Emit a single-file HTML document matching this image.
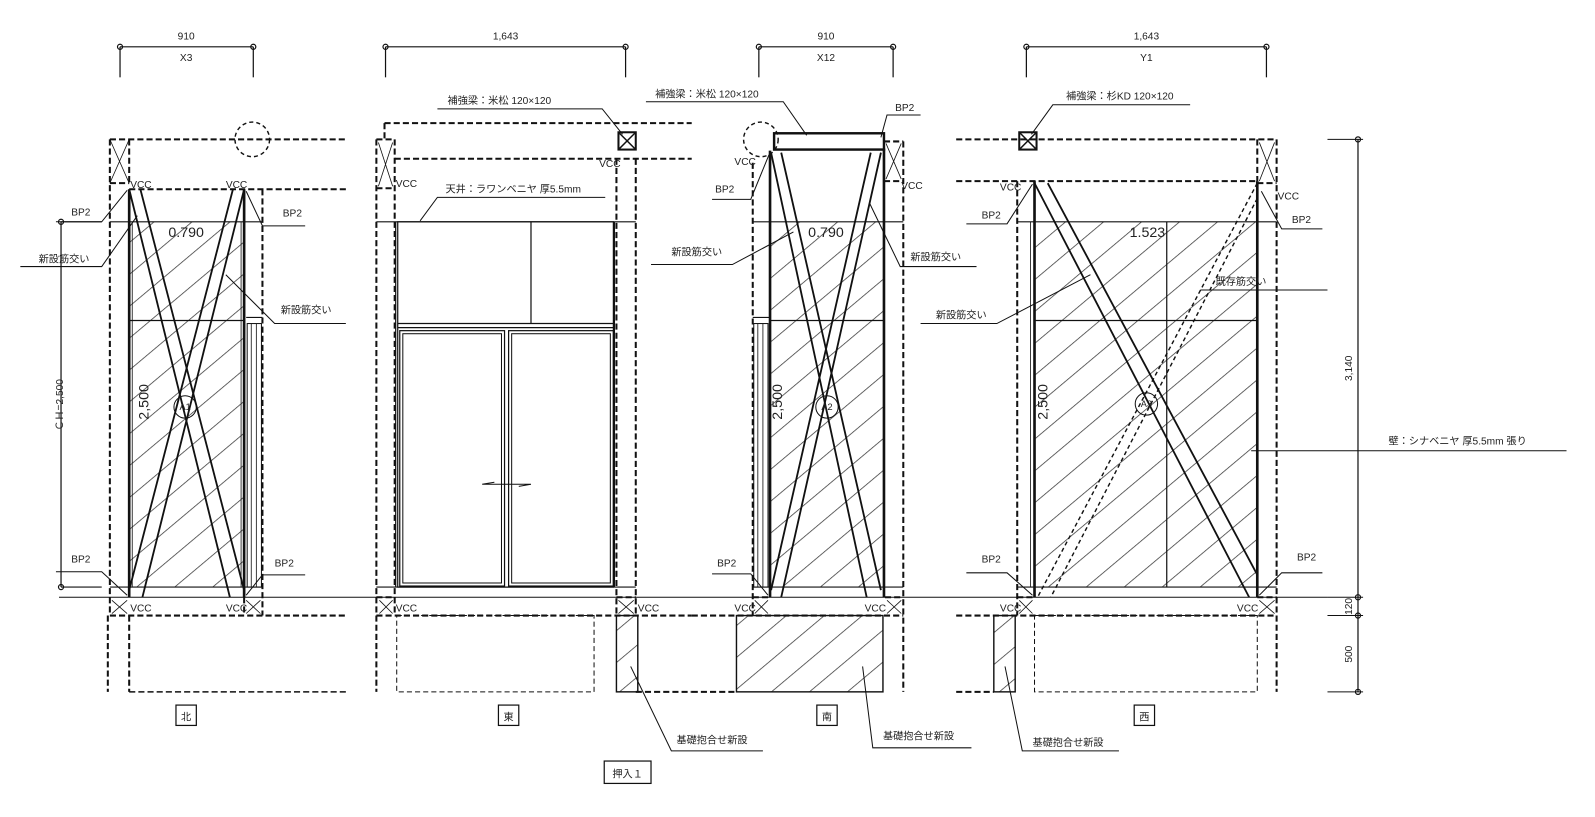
<!DOCTYPE html>
<html><head><meta charset="utf-8"><style>
html,body{margin:0;padding:0;background:#fff;}
svg{display:block;}
text{font-family:"Liberation Sans","Noto Sans CJK JP",sans-serif;fill:#222;}
</style></head><body>
<svg width="1595" height="817" viewBox="0 0 1568 803" preserveAspectRatio="none" xmlns="http://www.w3.org/2000/svg">
<defs>
<pattern id="h" patternUnits="userSpaceOnUse" width="24" height="24" patternTransform="rotate(-40)">
<line x1="0" y1="0" x2="24" y2="0" stroke="#333" stroke-width="1.4"/>
</pattern>
</defs>
<g stroke="#111" fill="none" stroke-width="1.2">
<g stroke-width="1.2">
<line x1="118" y1="46" x2="249" y2="46"/><line x1="118" y1="46" x2="118" y2="76"/><line x1="249" y1="46" x2="249" y2="76"/>
<circle cx="118" cy="46" r="2.5"/><circle cx="249" cy="46" r="2.5"/>
<line x1="379" y1="46" x2="615" y2="46"/><line x1="379" y1="46" x2="379" y2="76"/><line x1="615" y1="46" x2="615" y2="76"/>
<circle cx="379" cy="46" r="2.5"/><circle cx="615" cy="46" r="2.5"/>
<line x1="746" y1="46" x2="878" y2="46"/><line x1="746" y1="46" x2="746" y2="76"/><line x1="878" y1="46" x2="878" y2="76"/>
<circle cx="746" cy="46" r="2.5"/><circle cx="878" cy="46" r="2.5"/>
<line x1="1009" y1="46" x2="1245" y2="46"/><line x1="1009" y1="46" x2="1009" y2="76"/><line x1="1245" y1="46" x2="1245" y2="76"/>
<circle cx="1009" cy="46" r="2.5"/><circle cx="1245" cy="46" r="2.5"/>
</g>

<line x1="58" y1="587" x2="1305" y2="587" stroke-width="1"/>

<!-- NORTH -->
<g stroke-dasharray="6,3" stroke-width="2">
<line x1="108" y1="137" x2="340" y2="137"/>
<line x1="127" y1="186" x2="340" y2="186"/>
<line x1="108" y1="137" x2="108" y2="605"/>
<line x1="258" y1="186" x2="258" y2="605"/>
<line x1="108" y1="180" x2="127" y2="180"/>
<line x1="108" y1="605" x2="340" y2="605"/>
<line x1="106" y1="605" x2="106" y2="680"/>
<line x1="127" y1="605" x2="127" y2="680"/>
<line x1="127" y1="680" x2="340" y2="680" stroke-width="1.4"/>
<line x1="127" y1="137" x2="127" y2="180"/>
<line x1="240" y1="587" x2="240" y2="605"/>
</g>
<circle cx="248" cy="137" r="17" stroke-dasharray="4,3" stroke-width="1.4"/>
<path d="M108 137 L127 180 M127 137 L108 180" stroke-width="0.8"/>
<path d="M110 590 L125 603 M125 590 L110 603 M242 590 L256 603 M256 590 L242 603" stroke-width="0.8"/>
<rect x="128" y="218" width="112" height="359" fill="url(#h)" stroke="none"/>
<line x1="108" y1="218" x2="258" y2="218"/>
<line x1="128" y1="315" x2="240" y2="315"/>
<line x1="108" y1="577" x2="258" y2="577"/>
<line x1="127" y1="186" x2="127" y2="587" stroke-width="2.6"/>
<line x1="240" y1="186" x2="240" y2="587" stroke-width="2.6"/>
<line x1="130" y1="218" x2="130" y2="577" stroke-width="0.8"/>
<line x1="237" y1="218" x2="237" y2="577" stroke-width="0.8"/>
<rect x="243" y="318" width="14" height="259" stroke-width="1"/>
<line x1="247" y1="318" x2="247" y2="577" stroke-width="0.8"/><line x1="252" y1="318" x2="252" y2="577" stroke-width="0.8"/>
<line x1="242" y1="312" x2="258" y2="312" stroke-width="1"/>
<g stroke-width="1.8">
<line x1="127" y1="186" x2="226" y2="587"/><line x1="138" y1="186" x2="240" y2="580"/>
<line x1="240" y1="186" x2="140" y2="587"/><line x1="229" y1="186" x2="127" y2="580"/>
</g>
<circle cx="182" cy="400" r="11" stroke-width="1"/>
<line x1="60" y1="218" x2="60" y2="577"/>
<line x1="60" y1="218" x2="100" y2="218"/><line x1="60" y1="577" x2="100" y2="577"/>
<circle cx="60" cy="218" r="2.5"/><circle cx="60" cy="577" r="2.5"/>

<!-- EAST -->
<g stroke-dasharray="6,3" stroke-width="2">
<line x1="378" y1="121" x2="680" y2="121"/>
<line x1="378" y1="121" x2="378" y2="137"/>
<line x1="388" y1="156" x2="680" y2="156"/>
<line x1="370" y1="137" x2="370" y2="680"/>
<line x1="388" y1="137" x2="388" y2="605"/>
<line x1="370" y1="137" x2="388" y2="137"/>
<line x1="370" y1="185" x2="388" y2="185"/>
<line x1="606" y1="156" x2="606" y2="605"/>
<line x1="625" y1="156" x2="625" y2="605"/>
<line x1="370" y1="605" x2="680" y2="605"/>
<line x1="370" y1="587" x2="388" y2="587"/>
<line x1="606" y1="587" x2="625" y2="587"/>
<line x1="625" y1="680" x2="680" y2="680"/>
</g>
<rect x="390" y="605" width="194" height="75" stroke-dasharray="5,3" stroke-width="1"/>
<path d="M372 140 L386 183 M386 140 L372 183" stroke-width="0.8"/>
<path d="M373 590 L386 603 M386 590 L373 603 M608 590 L623 603 M623 590 L608 603" stroke-width="0.8"/>
<rect x="608" y="130" width="17" height="17" stroke-width="2"/>
<path d="M608 130 L625 147 M625 130 L608 147" stroke-width="1.4"/>
<line x1="370" y1="218" x2="625" y2="218"/>
<line x1="370" y1="577" x2="625" y2="577"/>
<rect x="391" y="218" width="212" height="359" stroke-width="1.2"/>
<line x1="389" y1="218" x2="389" y2="577"/><line x1="604" y1="218" x2="604" y2="577"/>
<line x1="522" y1="218" x2="522" y2="318"/>
<line x1="391" y1="318" x2="603" y2="318"/><line x1="391" y1="322" x2="603" y2="322"/>
<rect x="393" y="325" width="103" height="251"/>
<rect x="500" y="325" width="103" height="251"/>
<rect x="396" y="328" width="97" height="245" stroke-width="1"/>
<rect x="503" y="328" width="97" height="245" stroke-width="1"/>
<path d="M474 476 L522 476 M474 476 L486 474 M522 476 L510 478" stroke-width="1"/>
<rect x="606" y="605" width="21" height="75" fill="url(#h)" stroke-width="1.4"/>

<!-- SOUTH -->
<g stroke-dasharray="6,3" stroke-width="2">
<line x1="740" y1="160" x2="740" y2="605"/>
<line x1="888" y1="139" x2="888" y2="680"/>
<line x1="869" y1="139" x2="888" y2="139"/>
<line x1="869" y1="178" x2="888" y2="178"/>
<line x1="680" y1="605" x2="888" y2="605"/>
<line x1="740" y1="587" x2="757" y2="587"/>
<line x1="870" y1="587" x2="888" y2="587"/>
<line x1="680" y1="680" x2="724" y2="680"/>
</g>
<circle cx="748" cy="137" r="17" stroke-dasharray="4,3" stroke-width="1.4"/>
<path d="M871 141 L886 176 M886 141 L871 176" stroke-width="0.8"/>
<path d="M742 590 L755 603 M755 590 L742 603 M872 590 L886 603 M886 590 L872 603" stroke-width="0.8"/>
<rect x="761" y="131" width="108" height="16" stroke-width="2.4"/>
<rect x="758" y="218" width="112" height="359" fill="url(#h)" stroke="none"/>
<line x1="740" y1="218" x2="888" y2="218"/>
<line x1="757" y1="315" x2="870" y2="315"/>
<line x1="740" y1="577" x2="888" y2="577"/>
<line x1="757" y1="148" x2="757" y2="587" stroke-width="2.6"/>
<line x1="869" y1="146" x2="869" y2="587" stroke-width="2.6"/>
<rect x="741" y="318" width="14" height="259" stroke-width="1"/>
<line x1="745" y1="318" x2="745" y2="577" stroke-width="0.8"/><line x1="750" y1="318" x2="750" y2="577" stroke-width="0.8"/>
<line x1="740" y1="312" x2="757" y2="312" stroke-width="1"/>
<g stroke-width="1.8">
<line x1="758" y1="150" x2="852" y2="587"/><line x1="768" y1="150" x2="866" y2="580"/>
<line x1="866" y1="150" x2="768" y2="587"/><line x1="856" y1="150" x2="758" y2="580"/>
</g>
<circle cx="813" cy="400" r="11" stroke-width="1"/>
<rect x="724" y="605" width="144" height="75" fill="url(#h)" stroke-width="1.4"/>

<!-- WEST -->
<g stroke-dasharray="6,3" stroke-width="2">
<line x1="940" y1="137" x2="1255" y2="137"/>
<line x1="940" y1="178" x2="1236" y2="178"/>
<line x1="1000" y1="178" x2="1000" y2="605"/>
<line x1="1255" y1="137" x2="1255" y2="680"/>
<line x1="1236" y1="137" x2="1236" y2="178"/>
<line x1="1236" y1="180" x2="1255" y2="180"/>
<line x1="940" y1="605" x2="1255" y2="605"/>
<line x1="1000" y1="587" x2="1017" y2="587"/>
<line x1="1236" y1="587" x2="1255" y2="587"/>
<line x1="940" y1="680" x2="977" y2="680"/>
</g>
<rect x="1017" y="605" width="219" height="75" stroke-dasharray="5,3" stroke-width="1"/>
<path d="M1238 140 L1253 178 M1253 140 L1238 178" stroke-width="0.8"/>
<path d="M1002 590 L1015 603 M1015 590 L1002 603 M1238 590 L1253 603 M1253 590 L1238 603" stroke-width="0.8"/>
<rect x="1002" y="130" width="17" height="17" stroke-width="2"/>
<path d="M1002 130 L1019 147 M1019 130 L1002 147" stroke-width="1.4"/>
<rect x="1018" y="218" width="217" height="359" fill="url(#h)" stroke="none"/>
<line x1="1000" y1="218" x2="1255" y2="218"/>
<line x1="1017" y1="315" x2="1236" y2="315"/>
<line x1="1000" y1="577" x2="1255" y2="577"/>
<line x1="1147" y1="218" x2="1147" y2="577"/>
<line x1="1017" y1="178" x2="1017" y2="587" stroke-width="2.6"/>
<line x1="1236" y1="178" x2="1236" y2="587" stroke-width="2.6"/>
<line x1="1013" y1="218" x2="1013" y2="577" stroke-width="0.8"/>
<g stroke-width="1.8">
<line x1="1017" y1="180" x2="1228" y2="587"/><line x1="1030" y1="180" x2="1236" y2="565"/>
</g>
<g stroke-width="1.4" stroke-dasharray="4,3">
<line x1="1236" y1="180" x2="1020" y2="587"/><line x1="1236" y1="195" x2="1033" y2="587"/>
</g>
<circle cx="1127" cy="397" r="11" stroke-width="1"/>
<rect x="977" y="605" width="21" height="75" fill="url(#h)" stroke-width="1.4"/>

<line x1="1335" y1="137" x2="1335" y2="680"/>
<g stroke-width="1">
<line x1="1305" y1="137" x2="1340" y2="137"/><line x1="1305" y1="587" x2="1340" y2="587"/>
<line x1="1305" y1="605" x2="1340" y2="605"/><line x1="1305" y1="680" x2="1340" y2="680"/>
</g>
<circle cx="1335" cy="137" r="2.5"/><circle cx="1335" cy="587" r="2.5"/><circle cx="1335" cy="605" r="2.5"/><circle cx="1335" cy="680" r="2.5"/>

<g stroke-width="1">
<path d="M430 107 L592 107 L612 132"/>
<path d="M635 100 L770 100 L793 133"/>
<path d="M905 113 L872 113 L866 135"/>
<path d="M1170 103 L1035 103 L1014 132"/>
<path d="M595 194 L430 194 L413 217"/>
<path d="M55 218 L100 218 L125 187"/>
<path d="M300 222 L258 222 L242 188"/>
<path d="M20 262 L100 262 L135 212"/>
<path d="M340 318 L270 318 L222 270"/>
<path d="M55 562 L100 562 L125 585"/>
<path d="M300 565 L258 565 L242 585"/>
<path d="M700 196 L738 196 L756 152"/>
<path d="M640 260 L720 260 L780 228"/>
<path d="M960 262 L885 262 L855 200"/>
<path d="M700 564 L738 564 L755 585"/>
<path d="M950 220 L990 220 L1015 181"/>
<path d="M905 318 L980 318 L1072 270"/>
<path d="M1300 225 L1260 225 L1240 188"/>
<path d="M1305 285 L1180 285"/>
<path d="M1540 443 L1230 443"/>
<path d="M950 563 L990 563 L1015 585"/>
<path d="M1300 563 L1260 563 L1238 585"/>
<path d="M750 738 L660 738 L620 655"/>
<path d="M955 735 L858 735 L848 655"/>
<path d="M1100 738 L1005 738 L988 655"/>
</g>
<rect x="173" y="693" width="20" height="20"/>
<rect x="490" y="693" width="20" height="20"/>
<rect x="803" y="693" width="20" height="20"/>
<rect x="1115" y="693" width="20" height="20"/>
<rect x="594" y="748" width="46" height="22"/>
</g>

<g font-size="10">
<text x="183" y="39" text-anchor="middle">910</text><text x="183" y="60" text-anchor="middle">X3</text>
<text x="497" y="39" text-anchor="middle">1,643</text>
<text x="812" y="39" text-anchor="middle">910</text><text x="812" y="60" text-anchor="middle">X12</text>
<text x="1127" y="39" text-anchor="middle">1,643</text><text x="1127" y="60" text-anchor="middle">Y1</text>
<text x="440" y="102">補強梁：米松 120×120</text>
<text x="644" y="96">補強梁：米松 120×120</text>
<text x="880" y="109">BP2</text>
<text x="1048" y="98">補強梁：杉KD 120×120</text>
<text x="438" y="189">天井：ラワンベニヤ 厚5.5mm</text>
<text x="128" y="185">VCC</text><text x="222" y="185">VCC</text>
<text x="70" y="212">BP2</text><text x="278" y="213">BP2</text>
<text x="38" y="258">新設筋交い</text><text x="276" y="308">新設筋交い</text>
<text x="70" y="553">BP2</text><text x="270" y="557">BP2</text>
<text x="128" y="601">VCC</text><text x="222" y="601">VCC</text>
<text x="389" y="184">VCC</text><text x="589" y="164">VCC</text>
<text x="389" y="601">VCC</text><text x="627" y="601">VCC</text>
<text x="722" y="162">VCC</text><text x="703" y="189">BP2</text>
<text x="886" y="186">VCC</text>
<text x="660" y="251">新設筋交い</text><text x="895" y="256">新設筋交い</text>
<text x="705" y="557">BP2</text>
<text x="722" y="601">VCC</text><text x="850" y="601">VCC</text>
<text x="983" y="187">VCC</text><text x="965" y="215">BP2</text>
<text x="1256" y="196">VCC</text><text x="1270" y="219">BP2</text>
<text x="920" y="313">新設筋交い</text>
<text x="1195" y="280">既存筋交い</text>
<text x="1365" y="437">壁：シナベニヤ 厚5.5mm 張り</text>
<text x="965" y="553">BP2</text><text x="1275" y="551">BP2</text>
<text x="983" y="601">VCC</text><text x="1216" y="601">VCC</text>
<text x="665" y="731">基礎抱合せ新設</text>
<text x="868" y="727">基礎抱合せ新設</text>
<text x="1015" y="733">基礎抱合せ新設</text>
<text x="183" y="708" text-anchor="middle">北</text>
<text x="500" y="708" text-anchor="middle">東</text>
<text x="813" y="708" text-anchor="middle">南</text>
<text x="1125" y="708" text-anchor="middle">西</text>
<text x="617" y="764" text-anchor="middle">押入１</text>
</g>
<g font-size="14">
<text x="183" y="233" text-anchor="middle">0.790</text>
<text x="812" y="233" text-anchor="middle">0.790</text>
<text x="1128" y="233" text-anchor="middle">1.523</text>
<text transform="translate(146,395) rotate(-90)" text-anchor="middle">2,500</text>
<text transform="translate(769,395) rotate(-90)" text-anchor="middle">2,500</text>
<text transform="translate(1030,395) rotate(-90)" text-anchor="middle">2,500</text>
</g>
<g font-size="9">
<text x="182" y="403" text-anchor="middle">A1</text>
<text x="813" y="403" text-anchor="middle">A2</text>
<text x="1127" y="400" text-anchor="middle">A3</text>
</g>
<g font-size="10">
<text transform="translate(62,398) rotate(-90)" text-anchor="middle">ＣＨ=2,500</text>
<text transform="translate(1329,362) rotate(-90)" text-anchor="middle">3,140</text>
<text transform="translate(1329,596) rotate(-90)" text-anchor="middle">120</text>
<text transform="translate(1329,643) rotate(-90)" text-anchor="middle">500</text>
</g>
</svg>
</body></html>
